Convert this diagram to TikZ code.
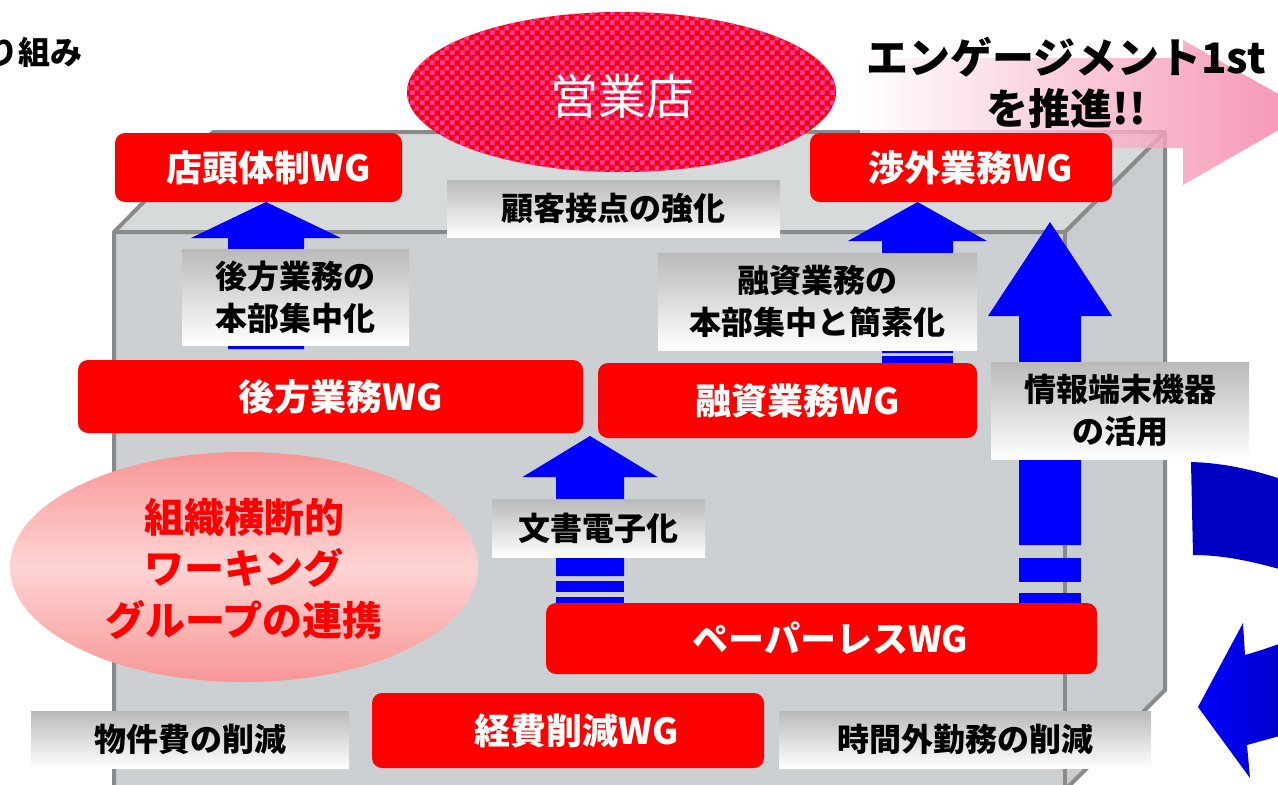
\documentclass[tikz,border=0pt]{standalone}
\usepackage{fontspec}
\setmainfont{Noto Sans CJK JP}
\usetikzlibrary{patterns,calc}
\pgfdeclarepatternformonly{jpchecker}{\pgfpointorigin}{\pgfqpoint{10pt}{10pt}}{\pgfqpoint{10pt}{10pt}}{%
  \pgfpathrectangle{\pgfpointorigin}{\pgfqpoint{5pt}{5pt}}%
  \pgfpathrectangle{\pgfqpoint{5pt}{5pt}}{\pgfqpoint{5pt}{5pt}}%
  \pgfusepath{fill}}
\definecolor{wgred}{RGB}{255,0,0}
\definecolor{arrblue}{RGB}{0,0,255}
\definecolor{boxfront}{RGB}{204,208,210}
\definecolor{boxtop}{RGB}{215,218,219}
\definecolor{boxside}{RGB}{202,205,207}
\definecolor{boxedge}{RGB}{138,138,138}
\definecolor{labgray}{RGB}{186,186,186}
\definecolor{chkpink}{RGB}{255,60,160}
\definecolor{pinkarr}{RGB}{245,120,160}
\definecolor{ellpink}{RGB}{248,150,150}
\definecolor{ellpale}{RGB}{255,212,212}
\definecolor{darkblue}{RGB}{0,0,196}
\pgfdeclareverticalshading{ellshade}{100bp}{color(0bp)=(ellpink); color(25bp)=(ellpink); color(50bp)=(ellpale); color(75bp)=(ellpink); color(100bp)=(ellpink)}
\newcommand\upblock[6]{% cx, tip y, head base y, head half width, shaft half width, shaft bottom y
  \fill[arrblue] (#1,#2) -- (#1+#4,#3) -- (#1+#5,#3) -- (#1+#5,#6) -- (#1-#5,#6) -- (#1-#5,#3) -- (#1-#4,#3) -- cycle;}
\newcommand\upstripe[4]{% cx, shaft half width, y1, y2
  \fill[arrblue] (#1-#2,#3) rectangle (#1+#2,#4);}
\tikzset{
  wgbox/.style={fill=wgred, rounded corners=10pt, inner sep=0pt, text=white,
    font=\fontsize{36}{40}\selectfont\bfseries},
  graylab/.style={top color=labgray, bottom color=white, inner sep=0pt, align=center,
    font=\fontsize{32}{42}\selectfont\bfseries},
  boxline/.style={draw=boxedge, line width=4pt, line join=round},
}
\begin{document}
\begin{tikzpicture}[x=1pt,y=-1pt]
\useasboundingbox (0,0) rectangle (1278,785);
\fill[white] (0,0) rectangle (1278,785);

% 3D box
\fill[boxfront] (114,232) -- (1065,232) -- (1065,800) -- (114,800) -- cycle;
\fill[boxtop] (114,232) -- (213,132) -- (1165,132) -- (1065,232) -- cycle;
\fill[boxside] (1065,232) -- (1165,132) -- (1165,690) -- (1065,790) -- cycle;
\draw[boxline] (114,800) -- (114,232) -- (213,132) -- (1165,132) -- (1165,690) -- (1065,790);
\draw[boxline] (114,232) -- (1065,232) -- (1165,132);
\draw[boxline] (1065,232) -- (1065,800);

% title fragment
\node[anchor=east, font=\fontsize{32}{36}\selectfont\bfseries, inner sep=0pt] (title) at (83,52) {り組み};

% 営業店 ellipse
\fill[wgred] (621.5,92) ellipse [x radius=214.5, y radius=80];
\fill[pattern=jpchecker, pattern color=chkpink] (621.5,92) ellipse [x radius=214.5, y radius=80];
\node[text=white, font=\fontsize{48}{52}\selectfont, inner sep=0pt] (eigyo) at (622,96) {営業店};

% pink arrow
\shade[left color=white, right color=pinkarr, opacity=0.8]
  (860,58) -- (1183,58) -- (1183,40) -- (1310,112) -- (1183,185) -- (1183,148) -- (860,148) -- cycle;
\node[align=center, font=\fontsize{42}{51}\selectfont\bfseries, inner sep=0pt] (engage) at (1066,83)
  {エンゲージメント1st\\を推進!!};

% right curved arrows
\fill[darkblue] (1191,462) .. controls (1225,463) and (1255,470) .. (1290,482) -- (1290,572)
  .. controls (1255,562) and (1225,555) .. (1193,555) -- cycle;
\shade[left color=arrblue, right color=darkblue] (1198,707) -- (1243,623) -- (1245,655)
  .. controls (1262,650) .. (1290,640) -- (1290,733) .. controls (1265,740) .. (1247,745)
  -- (1250,778) -- cycle;

% block arrows
\upblock{266}{202}{238}{75}{38}{349}
\upblock{917.5}{202}{241}{69.5}{35.5}{353}
\upstripe{917.5}{35.5}{356}{363}
\upblock{590}{436}{477}{67.5}{34}{576}
\upstripe{590}{34}{581}{592}
\upstripe{590}{34}{597}{603}
\upblock{1050}{222}{316}{62}{31}{545}
\upstripe{1050}{31}{558}{582}
\upstripe{1050}{31}{593}{605}

% left ellipse
\shade[shading=ellshade] (244,567) ellipse [x radius=234, y radius=115];
\node[align=center, text=wgred, font=\fontsize{40}{51.5}\selectfont\bfseries, inner sep=0pt] (soshiki) at (244,568.5)
  {組織横断的\\ワーキング\\グループの連携};

% WG boxes
\node[wgbox, minimum width=287pt, minimum height=69pt] (tento) at (258.5,167.5) {\hspace*{20pt}店頭体制WG};
\node[wgbox, minimum width=302pt, minimum height=69pt] (shogai) at (961,167.5) {\hspace*{20pt}渉外業務WG};
\node[wgbox, minimum width=505pt, minimum height=73pt] (koho) at (330.5,396.5) {\hspace*{20pt}後方業務WG};
\node[wgbox, minimum width=379pt, minimum height=75pt] (yushi) at (787.5,400.5) {\hspace*{20pt}融資業務WG};
\node[wgbox, minimum width=551pt, minimum height=71pt] (paper) at (821.5,638.5) {\hspace*{18pt}ペーパーレスWG};
\node[wgbox, minimum width=392pt, minimum height=75pt] (keihi) at (568,730.5) {\hspace*{18pt}経費削減WG};

% gray labels
\node[graylab, minimum width=333pt, minimum height=57pt] (kokyaku) at (613.5,208.5) {顧客接点の強化};
\node[graylab, minimum width=227pt, minimum height=96pt] (kohoL) at (295.5,297) {後方業務の\\本部集中化};
\node[graylab, minimum width=319pt, minimum height=97pt] (yushiL) at (817.5,301.5) {融資業務の\\本部集中と簡素化};
\node[graylab, minimum width=258pt, minimum height=97pt] (johoL) at (1120,410.5) {情報端末機器\\の活用};
\node[graylab, minimum width=213pt, minimum height=58pt] (bunsho) at (598.5,528) {文書電子化};
\node[graylab, minimum width=318pt, minimum height=57pt] (bukken) at (190,739.5) {物件費の削減};
\node[graylab, minimum width=372pt, minimum height=57pt] (jikan) at (965,739.5) {時間外勤務の削減};
\end{tikzpicture}
\end{document}
